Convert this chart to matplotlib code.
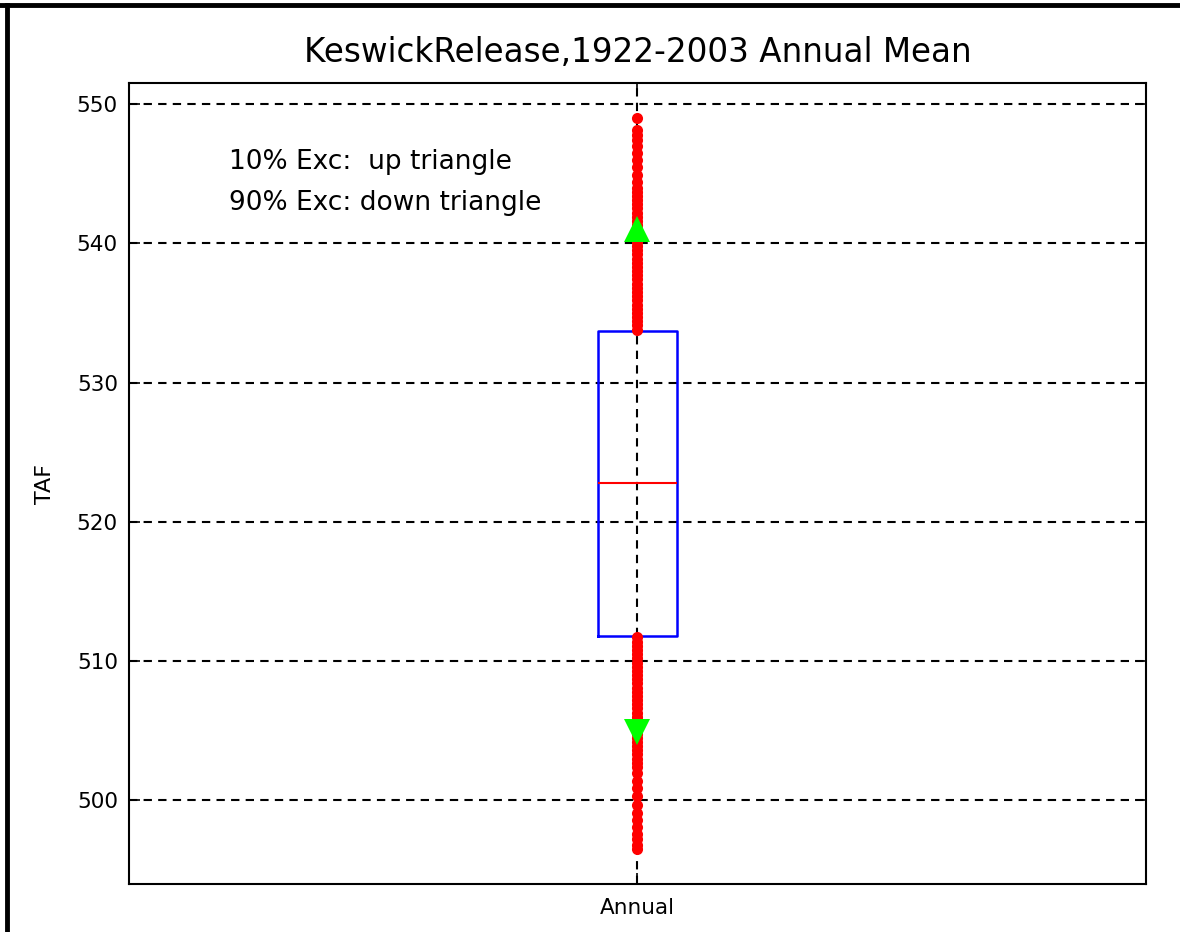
import matplotlib
matplotlib.use("Agg")
import matplotlib.pyplot as plt
from matplotlib.lines import Line2D

plt.rcParams['font.family'] = ['DejaVu Sans']

TITLE = 'KeswickRelease,1922-2003 Annual Mean'
CATEGORY = 'Annual'

# box statistics (TAF)
q1 = 511.8
median = 522.8
q3 = 533.7

# exceedance markers
exc10 = 541.0
exc90 = 504.9

# outliers above the box
high_out = [533.8, 534.1, 534.4, 534.7, 535.0, 535.3, 535.6, 535.9, 536.2, 536.5,
            536.8, 537.1, 537.4, 537.7, 538.0, 538.3, 538.6, 538.9, 539.2, 539.5,
            539.8, 540.1, 540.4, 540.7, 541.0, 541.3, 541.6, 541.9, 542.2, 542.5,
            542.8, 543.1, 543.4, 543.7, 544.0, 544.4, 544.9, 545.5, 546.0, 546.5,
            547.0, 547.4, 547.8, 548.1, 549.0]
# outliers below the box
low_out = [511.7, 511.4, 511.1, 510.8, 510.5, 510.2, 509.9, 509.6, 509.3, 509.0,
           508.7, 508.4, 508.1, 507.8, 507.5, 507.2, 506.9, 506.6, 506.3, 506.0,
           505.7, 505.4, 505.1, 504.8, 504.5, 504.2, 503.9, 503.6, 503.3, 503.0,
           502.7, 502.4, 502.0, 501.4, 500.9, 500.3, 499.7, 499.1, 498.6, 498.1,
           497.6, 497.2, 496.8, 496.5]

fig = plt.figure(figsize=(11.8, 9.32), dpi=100)
ax = fig.add_axes([0.1093, 0.0515, 0.8619, 0.8594])

ax.grid(True, color='black', linestyle=(0, (4, 3)), linewidth=1.5)
ax.set_axisbelow(True)

# box drawn straight from the summary stats, no whiskers or caps
stats = [dict(med=median, q1=q1, q3=q3, whislo=q1, whishi=q3, label=CATEGORY)]
ax.bxp(stats, positions=[1], widths=0.078, showcaps=False, showfliers=False,
       boxprops=dict(color='blue', linewidth=1.8),
       medianprops=dict(color='red', linewidth=1.5),
       whiskerprops=dict(linewidth=0))

ax.plot([1] * len(high_out), high_out, linestyle='none', marker='o',
        markersize=8, color='red', markeredgewidth=0, zorder=3)
ax.plot([1] * len(low_out), low_out, linestyle='none', marker='o',
        markersize=8, color='red', markeredgewidth=0, zorder=3)
ax.plot([1], [exc10], linestyle='none', marker='^', markersize=19,
        color='#00ff00', markeredgewidth=0, zorder=4)
ax.plot([1], [exc90], linestyle='none', marker='v', markersize=19,
        color='#00ff00', markeredgewidth=0, zorder=4)

ax.set_xlim(0.5, 1.5)
ax.set_ylim(494.0, 551.5)
ax.set_yticks([500, 510, 520, 530, 540, 550])
ax.set_xticks([1])
ax.set_xticklabels([CATEGORY])
ax.tick_params(direction='in', length=8, width=1.2, top=True, right=True,
               labelsize=15.5, pad=8)
ax.tick_params(axis='x', labelsize=15.5, pad=10)
for s in ax.spines.values():
    s.set_linewidth(1.5)

ax.set_ylabel('TAF', fontsize=16, labelpad=16)
ax.set_title(TITLE, fontsize=23.5, pad=15)

ax.text(0.098, 0.918, '10% Exc:  up triangle\n90% Exc: down triangle',
        transform=ax.transAxes, fontsize=19, va='top', ha='left',
        linespacing=1.75)

# window frame lines along the top and left edges
fig.add_artist(Line2D([0.0, 1.0], [1 - 5 / 932, 1 - 5 / 932],
                      transform=fig.transFigure, color='black', linewidth=3.5))
fig.add_artist(Line2D([7 / 1180, 7 / 1180], [0.0, 1 - 5 / 932],
                      transform=fig.transFigure, color='black', linewidth=3.5))

fig.savefig('out.png', dpi=100)
